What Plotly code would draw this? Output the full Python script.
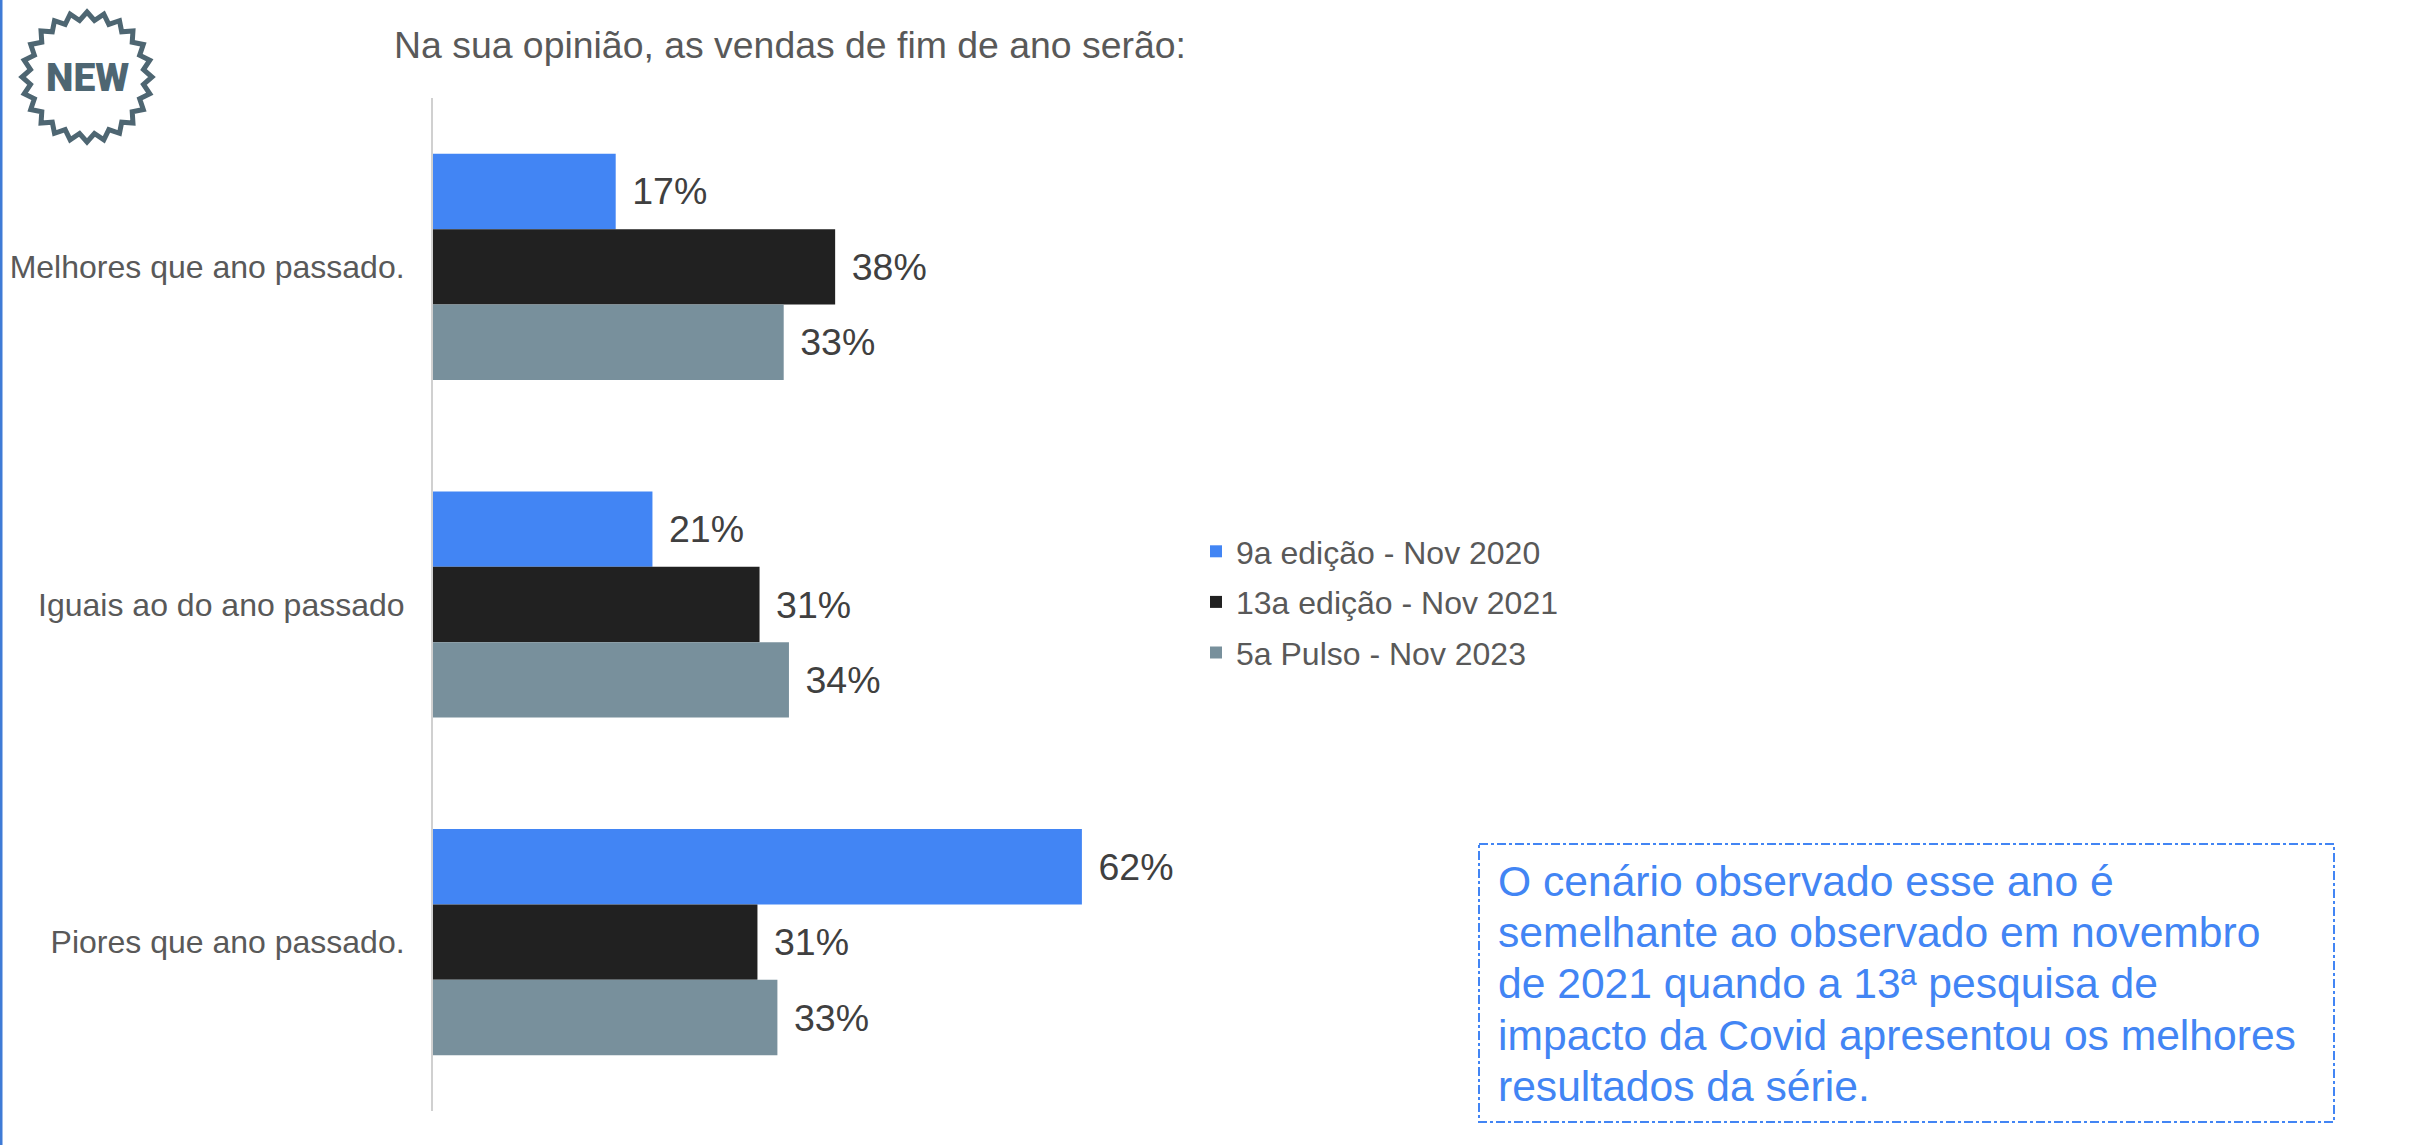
import math
import plotly.graph_objects as go

categories = ["Melhores que ano passado.", "Iguais ao do ano passado", "Piores que ano passado."]
series_names = ["9a edição - Nov 2020", "13a edição - Nov 2021", "5a Pulso - Nov 2023"]
edicao_9 = [17.4, 20.9, 61.8]
edicao_13 = [38.3, 31.1, 30.9]
pulso_5 = [33.4, 33.9, 32.8]
colors = ["#4285F4", "#212121", "#78909C"]
title_text = "Na sua opinião, as vendas de fim de ano serão:"
note_lines = [
    "O cenário observado esse ano é",
    "semelhante ao observado em novembro",
    "de 2021 quando a 13ª pesquisa de",
    "impacto da Covid apresentou os melhores",
    "resultados da série.",
]

W, H = 2420, 1145
L, T, PW, PH = 433, 98, 1050, 1013
FONT = "Liberation Sans, Arial, sans-serif"
px = lambda v: (v - L) / PW
py = lambda v: 1 - (v - T) / PH

fig = go.Figure()
for name, vals, col in zip(series_names, [edicao_9, edicao_13, pulso_5], colors):
    fig.add_trace(go.Bar(
        y=categories, x=vals, name=name, orientation="h", legendgroup=name,
        marker=dict(color=col, line=dict(width=0)),
        texttemplate="\u00a0\u200a%{x:.0f}%", textposition="outside", cliponaxis=False,
        textfont=dict(family=FONT, size=37.5, color="#404040"),
    ))

# "NEW" badge outline
cx, cy, pts = 87, 77, 24
path = []
for i in range(pts * 2):
    r = 65 if i % 2 == 0 else 57
    a = math.pi * i / pts - math.pi / 2
    path.append(f"{'M' if i == 0 else 'L'}{px(cx + r * math.cos(a)):.5f},{py(cy + r * math.sin(a)):.5f}")
shapes = [
    dict(type="path", path=" ".join(path) + " Z", xref="paper", yref="paper",
         line=dict(color="#4E6672", width=5)),
    dict(type="rect", xref="paper", yref="paper", x0=px(1479), x1=px(2334), y0=py(844), y1=py(1122),
         line=dict(color="#4285F4", width=2, dash="dashdot")),
    dict(type="rect", xref="paper", yref="paper", x0=px(0), x1=px(2.5), y0=py(0), y1=py(H),
         line=dict(width=0), fillcolor="#3F7BD6"),
]

annotations = [
    dict(text="NEW", x=px(87), y=py(78), xref="paper", yref="paper", xanchor="center", yanchor="middle",
         showarrow=False, font=dict(family="Roboto, sans-serif", size=39, color="#4E6672", weight=900)),
    dict(text=title_text, x=px(392), y=py(45), xref="paper", yref="paper", xanchor="left", yanchor="middle",
         showarrow=False, font=dict(family=FONT, size=37.4, color="#595959")),
]
for i, line in enumerate(note_lines):
    annotations.append(dict(text=line, x=px(1496), y=py(881 + 51.2 * i), xref="paper", yref="paper",
                            xanchor="left", yanchor="middle", showarrow=False,
                            font=dict(family=FONT, size=42.6, color="#4285F4")))

fig.update_layout(
    width=W, height=H, autosize=False,
    margin=dict(l=L, t=T, b=H - T - PH, r=W - L - PW, pad=0, autoexpand=False),
    paper_bgcolor="white", plot_bgcolor="white",
    barmode="group", bargap=0.33, bargroupgap=0,
    xaxis=dict(range=[0, 100], visible=False, showgrid=False, zeroline=False, automargin=False),
    yaxis=dict(autorange=False, range=[2.5, -0.5], showgrid=False, zeroline=False, automargin=False,
               showline=True, linecolor="#D0D0D0", linewidth=2, ticks="", ticklabelstandoff=20,
               tickfont=dict(family=FONT, size=32, color="#595959")),
    legend=dict(x=px(1196), y=py(524), xanchor="left", yanchor="top",
                orientation="v", tracegroupgap=6, traceorder="grouped", itemwidth=30, itemclick=False,
                font=dict(family=FONT, size=32, color="#595959"), bgcolor="rgba(0,0,0,0)"),
    shapes=shapes, annotations=annotations, showlegend=True,
)
fig.write_html("out.html", config=dict(displayModeBar=False), post_script="document.body.style.margin='0';")
